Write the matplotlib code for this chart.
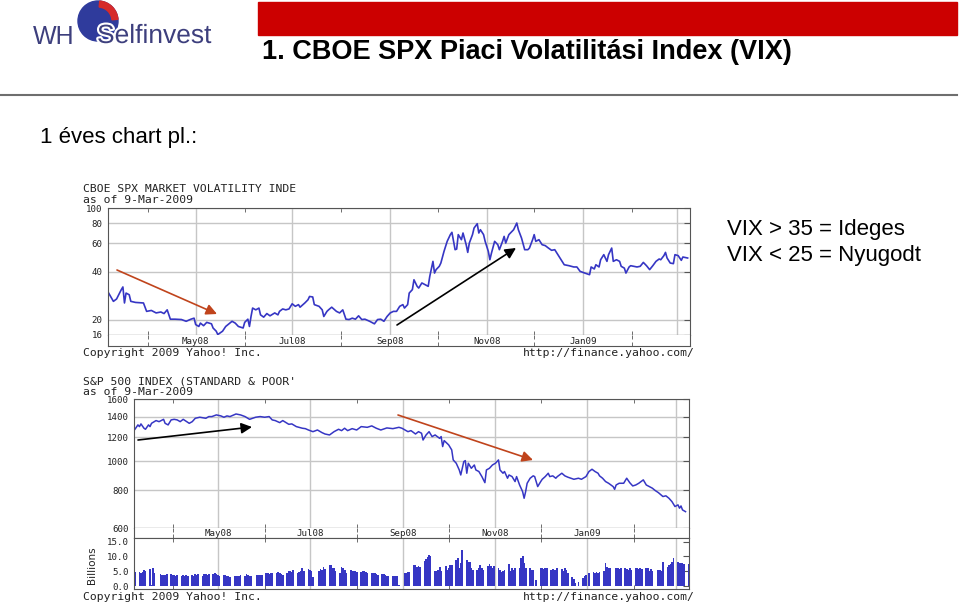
import numpy as np
import pandas as pd
import matplotlib
matplotlib.use("Agg")
import matplotlib.pyplot as plt
import matplotlib.dates as mdates
import matplotlib.patheffects as pe
from matplotlib.patches import Rectangle, Circle, Wedge
from matplotlib.ticker import FixedLocator, FixedFormatter, NullLocator

# data, x = days after 7-Mar-2008
start = pd.Timestamp("2008-03-07")

vix_day = [0, 3, 5, 8, 9, 10, 11, 13, 14, 17, 22, 24, 27, 30, 33, 35, 37, 39, 42, 46,
           49, 52, 54, 55, 57, 58, 60, 62, 65, 66, 68, 69, 72, 74, 76, 78, 80, 82, 85, 86,
           88, 89, 90, 91, 93, 95, 96, 98, 100, 102, 105, 107, 108, 110, 112, 114, 116, 118, 120, 121,
           124, 126, 127, 129, 130, 133, 135, 136, 138, 139, 141, 144, 146, 148, 150, 152, 154, 156, 158, 160,
           162, 165, 168, 170, 172, 174, 176, 178, 180, 182, 184, 186, 187, 189, 190, 192, 193, 195, 196, 198,
           200, 202, 203, 205, 206, 207, 209, 210, 212, 214, 216, 217, 219, 220, 221, 223, 224, 226, 227, 228,
           230, 231, 233, 234, 235, 237, 238, 240, 241, 242, 244, 246, 247, 249, 250, 251, 253, 254, 256, 258,
           259, 261, 263, 265, 266, 268, 269, 270, 272, 274, 276, 278, 280, 282, 284, 286, 288, 291, 294, 296,
           298, 301, 304, 305, 307, 308, 310, 311, 313, 315, 316, 318, 319, 321, 323, 324, 326, 327, 329, 330,
           332, 334, 336, 338, 340, 342, 344, 346, 348, 349, 351, 352, 353, 355, 357, 358, 360, 362, 363, 366]
vix = [29.3, 26.0, 26.9, 30.8, 32.0, 25.4, 29.3, 28.6, 26.0, 25.6, 25.4, 22.5, 22.8, 22.0, 22.3, 21.8, 23.0, 20.1, 20.1, 20.0,
       19.5, 20.1, 20.4, 18.6, 18.1, 19.0, 18.3, 19.2, 18.8, 17.7, 16.9, 16.1, 16.9, 18.1, 18.8, 19.5, 19.0, 18.1, 17.7, 19.2,
       20.1, 18.1, 20.9, 23.6, 23.0, 23.6, 21.4, 20.7, 21.8, 21.1, 22.0, 21.4, 22.5, 23.3, 23.0, 23.3, 25.1, 24.2, 24.8, 23.9,
       25.4, 26.6, 27.9, 27.7, 24.8, 24.2, 23.0, 20.9, 22.5, 23.0, 23.9, 22.5, 22.0, 23.0, 20.1, 20.0, 20.4, 20.1, 21.1, 20.0,
       20.1, 19.5, 18.8, 20.0, 20.1, 19.5, 20.9, 22.0, 22.5, 22.5, 24.2, 24.8, 23.6, 24.8, 29.3, 30.8, 35.5, 32.3, 31.5, 33.9,
       33.1, 32.3, 37.3, 46.3, 39.1, 41.1, 43.1, 45.2, 53.5, 61.8, 68.1, 70.4, 54.8, 55.3, 68.1, 63.3, 69.7, 58.9, 52.7, 60.3,
       68.1, 74.9, 79.7, 69.7, 73.1, 68.1, 61.8, 53.5, 47.4, 52.2, 61.8, 58.9, 54.8, 61.8, 66.4, 60.3, 68.1, 69.7, 73.1, 80.5,
       73.1, 64.8, 54.8, 54.8, 56.1, 63.3, 68.1, 61.8, 63.3, 58.9, 58.1, 56.1, 54.3, 54.8, 51.0, 47.4, 44.1, 43.5, 42.7, 42.7,
       40.1, 39.1, 38.2, 42.7, 41.5, 44.1, 42.7, 47.4, 51.0, 46.3, 51.0, 56.1, 46.3, 47.4, 46.3, 43.1, 42.0, 39.1, 42.7, 43.5,
       43.1, 42.7, 43.1, 45.6, 43.5, 41.1, 43.5, 46.3, 47.9, 47.4, 50.3, 52.7, 48.6, 45.2, 44.8, 51.0, 50.3, 47.0, 49.3, 48.6]

spx_day = [0, 2, 3, 4, 6, 7, 9, 10, 11, 14, 16, 19, 20, 22, 24, 26, 28, 30, 32, 36,
           38, 40, 43, 47, 49, 51, 54, 57, 59, 61, 63, 67, 70, 73, 76, 80, 83, 86, 89, 91,
           93, 96, 98, 102, 104, 107, 111, 113, 115, 118, 121, 124, 126, 129, 132, 135, 137, 139, 141, 144,
           147, 150, 154, 157, 160, 163, 167, 171, 175, 177, 179, 181, 183, 186, 188, 190, 191, 193, 195, 197,
           199, 202, 203, 204, 205, 208, 210, 211, 213, 215, 216, 218, 219, 220, 221, 223, 225, 226, 228, 230,
           232, 233, 235, 237, 239, 241, 242, 244, 245, 247, 248, 250, 252, 253, 255, 257, 258, 259, 260, 262,
           264, 265, 267, 269, 270, 272, 274, 275, 277, 279, 280, 283, 285, 287, 289, 291, 294, 296, 299, 301,
           303, 305, 307, 308, 310, 312, 314, 317, 318, 319, 321, 324, 326, 328, 330, 332, 334, 337, 339, 341,
           343, 345, 347, 350, 352, 354, 356, 358, 360, 361, 362, 363, 365]
spx = [1274, 1317, 1300, 1327, 1284, 1274, 1317, 1300, 1333, 1361, 1350, 1374, 1333, 1317, 1368, 1374, 1368, 1350, 1374, 1333,
       1350, 1385, 1396, 1385, 1403, 1403, 1421, 1410, 1396, 1410, 1403, 1431, 1421, 1403, 1374, 1396, 1403, 1396, 1403, 1368,
       1361, 1340, 1361, 1323, 1327, 1300, 1284, 1280, 1267, 1251, 1267, 1242, 1229, 1220, 1251, 1274, 1261, 1284, 1261, 1280,
       1267, 1300, 1293, 1307, 1284, 1267, 1287, 1280, 1293, 1284, 1267, 1251, 1261, 1229, 1251, 1236, 1174, 1220, 1251, 1205,
       1220, 1189, 1205, 1117, 1169, 1131, 1089, 1009, 984, 935, 900, 996, 1004, 912, 984, 947, 971, 935, 924, 889,
       849, 935, 947, 971, 984, 1009, 935, 912, 924, 878, 900, 889, 856, 889, 834, 793, 754, 793, 845, 878,
       894, 889, 824, 856, 871, 889, 912, 889, 894, 878, 889, 912, 894, 885, 878, 871, 878, 871, 889, 924,
       940, 924, 912, 894, 878, 856, 845, 824, 807, 834, 845, 845, 878, 849, 828, 834, 845, 867, 834, 824,
       814, 799, 787, 764, 768, 754, 735, 708, 717, 699, 711, 690, 681]

market_holidays = ["2008-03-21", "2008-05-26", "2008-07-04", "2008-09-01", "2008-11-27",
                   "2008-12-25", "2009-01-01", "2009-01-19", "2009-02-16"]
# daily volume (billions), one row per week
volume_bn = [4.7,
             4.7, 4.4, 4.9, 5.5, 5.2,   5.7, 0.5, 6.3, 4.3,   4.0, 3.9, 3.7, 3.8, 4.0,
             4.2, 3.9, 3.7, 3.6, 3.7,   3.6, 3.7, 3.5, 3.8, 3.6,   3.9, 3.5, 4.1, 3.9, 4.2,
             3.6, 4.0, 4.2, 3.9, 4.0,   4.0, 4.4, 4.1, 3.9, 3.6,   3.7, 3.8, 3.6, 3.4, 3.2,
             3.3, 3.6, 3.5, 3.6, 3.7,   3.5, 4.0, 3.8, 3.5, 3.3,   3.8, 3.9, 3.8, 3.9,
             4.3, 4.4, 4.2, 4.5, 4.6,   4.6, 4.8, 4.4, 4.1, 3.9,   4.6, 5.0, 5.1, 4.9, 5.4,
             4.4, 4.8, 5.3, 6.0, 5.2,   5.8, 5.4, 5.2, 3.0,   5.3, 5.9, 5.6, 6.4, 5.7,
             7.2, 7.3, 6.3, 6.0, 5.0,   4.5, 6.6, 6.2, 5.4, 4.6,   5.5, 5.3, 5.0, 5.1, 4.8,
             4.8, 5.2, 5.0, 4.9, 4.6,   4.3, 4.6, 4.4, 4.0, 3.9,   4.1, 4.0, 3.8, 3.6, 3.5,
             3.3, 3.4, 3.3, 3.5, 0.6,   4.5, 4.6, 4.8, 4.7,   7.2, 7.0, 6.6, 6.9, 6.4,
             8.4, 9.0, 9.7, 10.5, 10.1,   5.0, 5.3, 5.6, 6.6, 5.2,   6.8, 5.4, 6.2, 7.0, 7.3,
             8.8, 9.4, 6.0, 7.8, 12.2,   8.8, 8.1, 8.3, 6.3, 5.6,   5.5, 6.2, 7.0, 6.0, 5.4,
             6.8, 7.4, 6.7, 6.2, 6.9,   6.0, 5.4, 4.9, 5.2, 5.6,   7.4, 5.0, 6.1, 5.5, 6.0,
             6.0, 9.4, 10.0, 7.7, 6.0,   6.0, 5.4, 5.6, 2.1,   6.0, 6.0, 5.8, 6.3, 6.0,
             5.5, 5.8, 5.4, 5.6, 6.0,   5.8, 5.2, 6.2, 5.4, 4.3,   3.2, 2.6, 1.0, 1.5,
             2.9, 3.4, 3.8, 4.3,   4.9, 4.6, 4.9, 4.5, 4.8,   5.0, 7.7, 6.6, 6.0, 6.2,
             6.2, 6.2, 5.9, 6.0,   6.2, 5.8, 5.5, 6.1, 5.5,   6.0, 6.3, 5.8, 6.1, 5.9,
             6.3, 6.0, 5.2, 5.7, 5.3,   5.4, 5.4, 5.1, 8.2,   6.6, 7.2, 7.4, 8.0, 9.4,
             8.1, 7.8, 7.8, 7.8, 7.6,
             7.4]

vix_ticks = [16, 20, 40, 60, 80, 100]
spx_ticks = [600, 800, 1000, 1200, 1400, 1600]
vol_ticks = [0, 5, 10, 15]
vol_labels = ["0.0", "5.0", "10.0", "15.0"]

W, H = 960, 602
MONO = "DejaVu Sans Mono"
SANS = ["Liberation Sans", "DejaVu Sans"]
NARROW = ["Liberation Sans Narrow", "Liberation Sans", "DejaVu Sans"]
GRID = "#c6c6c6"
FRAME = "#555555"
BLUE = "#3636c4"
INK = "#222222"
SMALL = 6.6   # yahoo tick / date labels
CAPS = 8.2    # yahoo captions

vix_dates = start + pd.to_timedelta(vix_day, unit="D")
spx_dates = start + pd.to_timedelta(spx_day, unit="D")
trade_dates = pd.bdate_range("2008-03-07", "2009-03-09").drop(pd.to_datetime(market_holidays))

x_lo = start - pd.Timedelta(hours=10)
x_hi = start + pd.Timedelta(days=367.5)

fig = plt.figure(figsize=(W / 100, H / 100), dpi=100)


def place(x0, y0, x1, y1):
    # pixel box, origin top left
    return fig.add_axes([x0 / W, 1 - y1 / H, (x1 - x0) / W, (y1 - y0) / H])


def month_ticks(ax):
    ax.set_xlim(x_lo, x_hi)
    ax.xaxis.set_major_locator(mdates.MonthLocator(bymonth=[1, 3, 5, 7, 9, 11]))
    ax.xaxis.set_minor_locator(mdates.MonthLocator(bymonth=[2, 4, 6, 8, 10, 12]))
    ax.tick_params(axis="x", which="minor", direction="in", length=3,
                   top=True, bottom=True, color=FRAME)
    ax.tick_params(axis="x", which="major", length=0, labelbottom=False)
    for s in ax.spines.values():
        s.set_color(FRAME)


def yahoo_style(ax, ticks, labels, hgrid=True):
    month_ticks(ax)
    ax.grid(True, axis="x", which="major", color=GRID, lw=1)
    if hgrid:
        ax.grid(True, axis="y", which="major", color=GRID, lw=1)
    ax.yaxis.set_major_locator(FixedLocator(ticks))
    ax.yaxis.set_major_formatter(FixedFormatter(labels))
    ax.yaxis.set_minor_locator(NullLocator())
    ax.tick_params(axis="y", left=False, right=True, direction="in", length=4,
                   color=FRAME, pad=4, labelsize=SMALL, labelfontfamily=MONO,
                   labelcolor=INK)
    ax.set_axisbelow(True)


def date_band(ax):
    month_ticks(ax)
    ax.set_ylim(0, 1)
    ax.set_yticks([])
    ax.spines["top"].set_visible(False)
    for d in pd.date_range(start, start + pd.Timedelta(days=350), freq="MS"):
        if d.month % 2 == 1:
            ax.text(d, 0.45, d.strftime("%b%y"), ha="center", va="center",
                    family=MONO, fontsize=SMALL, color=INK)


# VIX chart
ax_vix = place(108, 208, 690, 335)
ax_vix.plot(vix_dates, vix, color=BLUE, lw=1.2)
ax_vix.set_yscale("log")
ax_vix.set_ylim(16, 100)
yahoo_style(ax_vix, vix_ticks, [str(t) for t in vix_ticks])
date_band(place(108, 335, 690, 346))

# S&P 500 chart
ax_spx = place(134.3, 399.3, 689.3, 528.3)
ax_spx.plot(spx_dates, spx, color=BLUE, lw=1.1)
ax_spx.set_yscale("log")
ax_spx.set_ylim(600, 1600)
yahoo_style(ax_spx, spx_ticks, [str(t) for t in spx_ticks])
date_band(place(134.3, 528.3, 689.3, 538.3))

ax_vol = place(134.3, 538.3, 689.3, 589)
ax_vol.bar(trade_dates, volume_bn, width=1.2, color=BLUE, lw=0)
ax_vol.set_ylim(-0.9, 16.1)
yahoo_style(ax_vol, vol_ticks, vol_labels, hgrid=False)

# overlay in pixel coordinates for the slide decoration
ov = fig.add_axes([0, 0, 1, 1])
ov.set_xlim(0, W)
ov.set_ylim(H, 0)
ov.axis("off")

# logo
ov.add_patch(Circle((98, 21), 20, color="#2f3b9c"))
ov.add_patch(Wedge((98, 21), 20, -85, -5, width=6, color="#d62a2a"))
ov.text(33, 37, "WH", fontsize=18, color="#3d3f7d", va="center", family=SANS)
ov.text(97, 36, "Selfinvest", fontsize=19, color="#3d3f7d", va="center", family=SANS,
        path_effects=[pe.withStroke(linewidth=3, foreground="white")])

# title bar
ov.add_patch(Rectangle((258, 2), 699, 33, color="#cc0000"))
ov.text(262, 52, "1. CBOE SPX Piaci Volatilitási Index (VIX)", fontsize=19.5,
        fontweight="bold", family=NARROW, va="center")
ov.plot([0, 957], [95, 95], color="#6e6e6e", lw=1.5)

ov.text(40, 137, "1 éves chart pl.:", fontsize=16, family=SANS, va="center")
ov.text(727, 229, "VIX > 35 = Ideges", fontsize=16, family=SANS, va="center")
ov.text(727, 255, "VIX < 25 = Nyugodt", fontsize=16, family=SANS, va="center")

# Yahoo captions
cap = dict(family=MONO, fontsize=CAPS, color=INK, va="center")
ov.text(83, 189, "CBOE SPX MARKET VOLATILITY INDE", **cap)
ov.text(83, 200, "as of 9-Mar-2009", **cap)
ov.text(83, 353, "Copyright 2009 Yahoo! Inc.", **cap)
ov.text(695, 353, "http://finance.yahoo.com/", ha="right", **cap)
ov.text(83, 381, "S&P 500 INDEX (STANDARD & POOR'", **cap)
ov.text(83, 392, "as of 9-Mar-2009", **cap)
ov.text(83, 597, "Copyright 2009 Yahoo! Inc.", **cap)
ov.text(695, 597, "http://finance.yahoo.com/", ha="right", **cap)
ov.text(92, 565, "Billions", rotation=90, ha="center", va="center",
        family=["DejaVu Sans"], fontsize=7.5, color=INK)

# hand drawn trend arrows
red = "#c0441c"
arrows = [((117, 270), (217, 314), red), ((397, 325), (516, 248), "black"),
          ((138, 440), (252, 427), "black"), ((398, 415), (533, 460), red)]
for tail, head, col in arrows:
    ov.annotate("", xy=head, xytext=tail,
                arrowprops=dict(arrowstyle="-|>", color=col, lw=1.2,
                                mutation_scale=16, shrinkA=0, shrinkB=0))

fig.savefig("out.png", dpi=100)
